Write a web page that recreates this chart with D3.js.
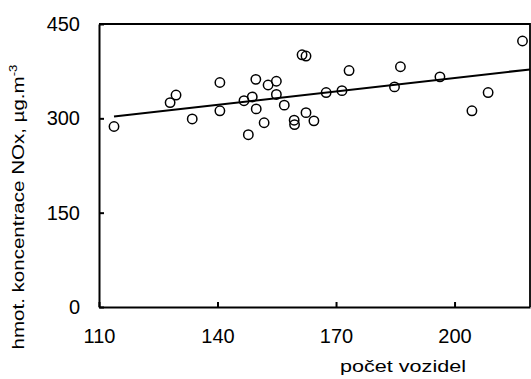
<!DOCTYPE html>
<html>
<head>
<meta charset="utf-8">
<script src="https://cdn.jsdelivr.net/npm/d3@7"></script>
<style>
  body { margin: 0; background: #fff; }
  svg { display: block; font-family: Arial, "Liberation Sans", sans-serif; }
</style>
</head>
<body>
<script>
// data
const vehicles = [113.8, 128.0, 129.5, 133.6, 140.6, 140.6, 146.7, 147.8, 148.8, 149.7,
  149.8, 151.8, 152.8, 154.9, 154.9, 156.9, 159.4, 159.5, 161.4, 162.4,
  162.4, 164.4, 167.5, 171.5, 173.3, 184.8, 186.3, 196.3, 204.4, 208.5, 217.2];
const nox = [287, 325, 337, 299, 357, 312, 328, 274, 334, 362,
  315, 293, 353, 359, 338, 321, 297, 290, 401, 399,
  309, 296, 341, 344, 376, 350, 382, 366, 312, 341, 423];
const xTicks = [110, 140, 170, 200];
const yTicks = [0, 150, 300, 450];

// set svg width and height
const width = 531,
  height = 379;
const margin = { top: 24, right: 1, bottom: 72, left: 99 };
const innerWidth = width - margin.left - margin.right;
const innerHeight = height - margin.top - margin.bottom;

const points = vehicles.map((v, i) => ({ x: v, y: nox[i] }));

// set-up scales
const xScale = d3.scaleLinear().domain([110, 219.1]).range([0, innerWidth]);
const yScale = d3.scaleLinear().domain([0, 450]).range([innerHeight, 0]);

const svg = d3
  .select("body")
  .append("svg")
  .attr("width", width)
  .attr("height", height);

const mainG = svg
  .append("g")
  .attr("transform", `translate(${margin.left},${margin.top})`);

// frame (top + right)
mainG
  .append("path")
  .attr("d", `M0,0H${innerWidth}V${innerHeight}`)
  .attr("fill", "none")
  .attr("stroke", "#000")
  .attr("stroke-width", 1.8);

const xAxis = d3
  .axisBottom(xScale)
  .tickValues(xTicks)
  .tickSizeInner(-5)
  .tickSizeOuter(0)
  .tickPadding(22);

const yAxis = d3
  .axisLeft(yScale)
  .tickValues(yTicks)
  .tickSizeInner(-5)
  .tickSizeOuter(0)
  .tickPadding(19);

const gx = mainG
  .append("g")
  .attr("transform", `translate(0,${innerHeight})`)
  .call(xAxis);

const gy = mainG.append("g").call(yAxis);

[gx, gy].forEach((g) => {
  g.select(".domain").attr("stroke-width", 2);
  g.selectAll(".tick line").attr("stroke-width", 2);
  g.selectAll(".tick text")
    .attr("font-size", 20)
    .attr("font-family", "Arial, 'Liberation Sans', sans-serif")
    .attr("fill", "#000");
});

// trendline (least squares through the points)
const mx = d3.mean(vehicles),
  my = d3.mean(nox);
const slope =
  d3.sum(points, (d) => (d.x - mx) * (d.y - my)) /
  d3.sum(points, (d) => (d.x - mx) * (d.x - mx));
const icpt = my - slope * mx;
const x0 = d3.min(vehicles),
  x1 = xScale.domain()[1];

mainG
  .append("line")
  .attr("x1", xScale(x0))
  .attr("y1", yScale(icpt + slope * x0))
  .attr("x2", xScale(x1))
  .attr("y2", yScale(icpt + slope * x1))
  .attr("stroke", "#000")
  .attr("stroke-width", 2);

// markers
mainG
  .selectAll("circle")
  .data(points)
  .enter()
  .append("circle")
  .attr("cx", (d) => xScale(d.x))
  .attr("cy", (d) => yScale(d.y))
  .attr("r", 4.7)
  .attr("fill", "none")
  .attr("stroke", "#000")
  .attr("stroke-width", 1.5);

// axis titles
const yTitle = svg
  .append("text")
  .attr("transform", "translate(24,207) rotate(-90)")
  .attr("text-anchor", "middle")
  .attr("font-size", 17)
  .attr("fill", "#000");
yTitle.append("tspan").text("hmot. koncentrace NOx, µg.m");
yTitle
  .append("tspan")
  .attr("font-size", 11)
  .attr("dy", -7)
  .text("-3");
yTitle.attr("textLength", 285).attr("lengthAdjust", "spacingAndGlyphs");

svg
  .append("text")
  .attr("x", 403)
  .attr("y", 372)
  .attr("text-anchor", "middle")
  .attr("font-size", 17)
  .attr("fill", "#000")
  .attr("textLength", 126)
  .attr("lengthAdjust", "spacingAndGlyphs")
  .text("počet vozidel");
</script>
</body>
</html>
